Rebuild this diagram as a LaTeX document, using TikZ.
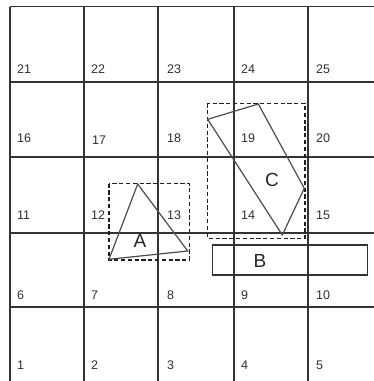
\documentclass[tikz,border=0pt]{standalone}
\usepackage{fontspec}
\setmainfont{Liberation Sans}
\tikzset{
  gridline/.style={draw=black!80, line width=1.4pt},
  shapeline/.style={draw=black!70, line width=1.2pt, line join=miter},
  boxline/.style={draw=black!88, line width=1.3pt, dash pattern=on 4.2pt off 2.6pt},
  num/.style={anchor=west, inner sep=0pt, text=black!82, font=\fontsize{12.5}{12.5}\selectfont},
  letter/.style={inner sep=0pt, text=black!85, font=\fontsize{19}{19}\selectfont}
}
\begin{document}
\begin{tikzpicture}[x=1pt,y=-1pt]
\useasboundingbox (0,0) rectangle (374,381);
% grid
\foreach \x in {10,84,158,234,308} \draw[gridline] (\x,6.5) -- (\x,381);
\foreach \y in {6.5,82,157,233,307} \draw[gridline] (10,\y) -- (374,\y);
% cell numbers
\node[num] (n21) at (17,69.5) {21};
\node[num] (n22) at (91,69.5) {22};
\node[num] (n23) at (167,69.5) {23};
\node[num] (n24) at (241,69.5) {24};
\node[num] (n25) at (316,69.5) {25};
\node[num] (n16) at (17,138.5) {16};
\node[num] (n17) at (92,140) {17};
\node[num] (n18) at (167,138.5) {18};
\node[num] (n19) at (241,138.5) {19};
\node[num] (n20) at (316,138.5) {20};
\node[num] (n11) at (17,215) {11};
\node[num] (n12) at (91,215) {12};
\node[num] (n13) at (167,215) {13};
\node[num] (n14) at (241,215) {14};
\node[num] (n15) at (316,215) {15};
\node[num] (n6) at (17,295.5) {6};
\node[num] (n7) at (91,295.5) {7};
\node[num] (n8) at (167,295.5) {8};
\node[num] (n9) at (241,295.5) {9};
\node[num] (n10) at (316,295.5) {10};
\node[num] (n1) at (17,365) {1};
\node[num] (n2) at (91,365) {2};
\node[num] (n3) at (167,365) {3};
\node[num] (n4) at (241,365) {4};
\node[num] (n5) at (316,365) {5};
% shape A
\draw[boxline] (109,183.5) rectangle (189.3,260);
\draw[shapeline] (137.7,184) -- (187.7,251) -- (109,259.3) -- cycle;
\node[letter] (A) at (140,241) {A};
% shape C
\draw[boxline] (207.7,103.3) rectangle (305,238.3);
\draw[shapeline] (207.7,119.3) -- (258.3,104) -- (304.3,188.3) -- (282.3,235) -- cycle;
\node[letter] (C) at (272,180) {C};
% shape B
\draw[shapeline, line width=1.4pt, draw=black!80] (212.3,245) rectangle (367.7,275);
\node[letter] (B) at (260,261) {B};
\end{tikzpicture}
\end{document}
